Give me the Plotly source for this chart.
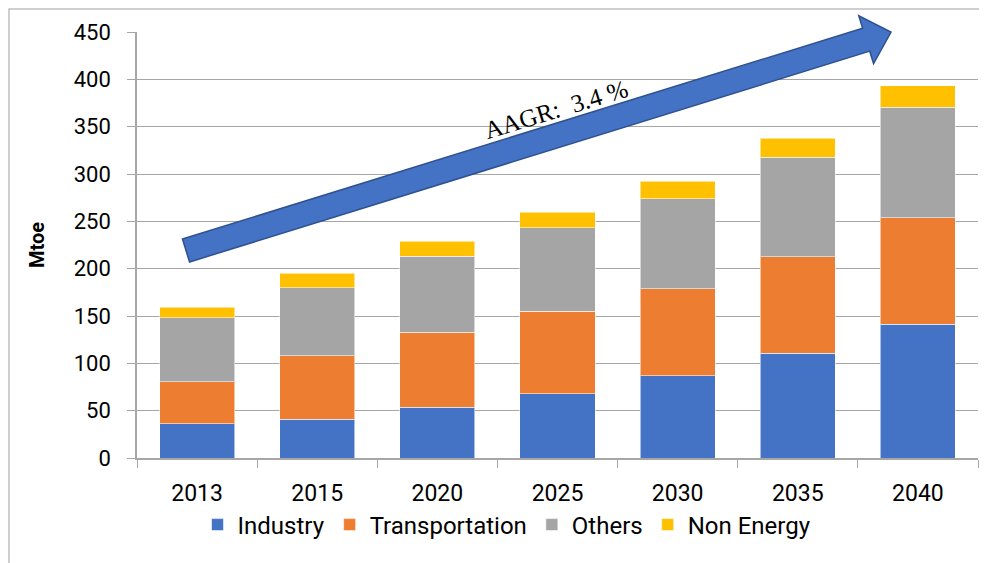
import numpy as np
import plotly.graph_objects as go

years = ["2013", "2015", "2020", "2025", "2030", "2035", "2040"]
industry = [36.4, 41.2, 53.6, 68.0, 86.7, 110.4, 141.3]
transportation = [43.9, 66.6, 79.4, 87.0, 92.3, 102.1, 112.7]
others = [67.7, 72.2, 80.0, 88.0, 95.0, 105.0, 116.5]
non_energy = [11.0, 15.0, 16.0, 16.7, 18.5, 20.5, 22.5]

series = [
    ("Industry", industry, "#4472C4"),
    ("Transportation", transportation, "#ED7D31"),
    ("Others", others, "#A5A5A5"),
    ("Non Energy", non_energy, "#FFC000"),
]

# page has an 8px body margin, so the figure is a bit smaller than the window
OFF = 8
W, H = 987 - OFF, 563 - OFF
L, R, T, B = 137 - OFF, 9, 32 - OFF, 563 - 458
PW, PH = W - L - R, H - T - B


def to_paper(px, py):
    # px, py are page pixel positions
    return (px - OFF - L) / PW, (H - B - (py - OFF)) / PH


fig = go.Figure()
for name, vals, col in series:
    fig.add_trace(go.Bar(
        x=years, y=vals, name=name,
        marker=dict(color=col, line=dict(color="rgba(255,255,255,0.55)", width=1)),
    ))

# growth arrow
tail = np.array([186.0, 250.5])
tip = np.array([891.0, 32.0])
u = (tip - tail) / np.linalg.norm(tip - tail)
n = np.array([-u[1], u[0]])
if n[1] < 0:
    n = -n
base = tip - 26 * u
pts = [tail - 12 * n, base - 12 * n, base - 25 * n, tip, base + 25 * n, base + 12 * n, tail + 12 * n]
path = "M " + " L ".join("%.5f,%.5f" % to_paper(*p) for p in pts) + " Z"
fig.add_shape(type="path", path=path, xref="paper", yref="paper",
              fillcolor="#4472C4", line=dict(color="#2F528F", width=1.5), layer="above")

# chart border (clipped at the figure edge)
bx0, by0 = to_paper(OFF + 1, OFF + 1)
bx1, by1 = to_paper(1000, 580)
fig.add_shape(type="rect", xref="paper", yref="paper", x0=bx0, y0=by1, x1=bx1, y1=by0,
              line=dict(color="#BFBFBF", width=1.5), fillcolor="rgba(0,0,0,0)", layer="below")

ax, ay = to_paper(556, 110)
fig.add_annotation(x=ax, y=ay, xref="paper", yref="paper", xanchor="center", yanchor="middle",
                   text="AAGR:\u00a0\u00a03.4\u00a0%", showarrow=False, textangle=-17,
                   font=dict(family="Liberation Serif, Times New Roman, serif", size=25, color="black"))

lx, ly = to_paper(507, 525)
fig.update_layout(
    width=W, height=H,
    barmode="stack", bargap=0.375,
    margin=dict(l=L, r=R, t=T, b=B),
    paper_bgcolor="white", plot_bgcolor="white",
    font=dict(family="Roboto, Noto Sans, sans-serif", size=23, color="black"),
    xaxis=dict(type="category", showline=True, linecolor="#A6A6A6", linewidth=1.5,
               ticks="outside", tickson="boundaries", ticklen=8, tickcolor="#A6A6A6",
               tickfont=dict(size=23), ticklabelstandoff=14),
    yaxis=dict(range=[0, 450], dtick=50, showline=True, linecolor="#A6A6A6", linewidth=1.5,
               gridcolor="#A6A6A6", gridwidth=1, ticks="outside", ticklen=8, tickcolor="#A6A6A6",
               tickfont=dict(size=22), ticklabelstandoff=12, zeroline=False,
               title=dict(text="<b>Mtoe</b>", font=dict(size=20), standoff=24)),
    legend=dict(orientation="h", x=lx, y=ly, xanchor="center", yanchor="middle",
                font=dict(size=24), traceorder="normal"),
    showlegend=True,
)

fig.write_html("out.html")
